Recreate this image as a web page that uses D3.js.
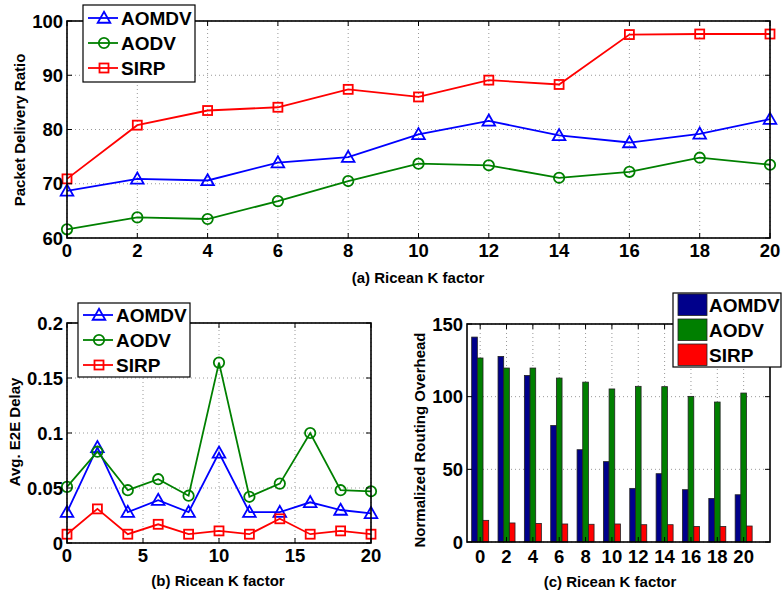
<!DOCTYPE html>
<html><head><meta charset="utf-8">
<script src="https://cdn.jsdelivr.net/npm/d3@7/dist/d3.min.js"></script>
<style>
html,body{margin:0;padding:0;background:#fff;}
svg text{font-family:"Liberation Sans",Arial,Helvetica,sans-serif;font-weight:bold;fill:#000;}
</style></head>
<body>
<svg id="c" width="782" height="596"></svg>
<script>
// ---- Data ----
const kFactors = [0, 2, 4, 6, 8, 10, 12, 14, 16, 18, 20];
const seriesNames = ["AOMDV", "AODV", "SIRP"];
// (a) Packet Delivery Ratio
const pdrAOMDV = [68.7, 70.9, 70.6, 73.9, 74.9, 79.1, 81.6, 78.9, 77.6, 79.2, 81.9];
const pdrAODV  = [61.6, 63.8, 63.5, 66.8, 70.5, 73.7, 73.4, 71.1, 72.2, 74.8, 73.5];
const pdrSIRP  = [70.9, 80.8, 83.5, 84.1, 87.4, 86.0, 89.1, 88.3, 97.5, 97.6, 97.6];
// (b) Avg. E2E Delay
const delayAOMDV = [0.028, 0.087, 0.028, 0.039, 0.028, 0.082, 0.028, 0.028, 0.037, 0.030, 0.027];
const delayAODV  = [0.051, 0.083, 0.048, 0.058, 0.043, 0.164, 0.042, 0.054, 0.100, 0.048, 0.047];
const delaySIRP  = [0.008, 0.031, 0.008, 0.017, 0.008, 0.011, 0.008, 0.022, 0.008, 0.011, 0.008];
// (c) Normalized Routing Overhead
const nroAOMDV = [141, 127.7, 114.6, 80.2, 63.5, 55.3, 36.9, 47, 36, 30, 32.5];
const nroAODV  = [126.6, 119.7, 119.7, 112.8, 110, 105.3, 107.1, 106.9, 100.2, 96.3, 102.5];
const nroSIRP  = [14.9, 13.1, 12.8, 12.4, 12.2, 12.4, 11.9, 11.9, 10.7, 10.7, 11];
// tick labels
const ticksA_x = [0, 2, 4, 6, 8, 10, 12, 14, 16, 18, 20];
const ticksA_y = [60, 70, 80, 90, 100];
const ticksB_x = [0, 5, 10, 15, 20];
const ticksB_y = [0, 0.05, 0.1, 0.15, 0.2];
const ticksB_ylab = ["0", "0.05", "0.1", "0.15", "0.2"];
const ticksC_y = [0, 50, 100, 150];

const lineColors = ["#0000ff", "#008000", "#ff0000"];
const barColors = ["#00008b", "#007f00", "#ff0000"];
const markers = ["tri", "circ", "sq"];

const svg = d3.select("#c");

function marker(g, type, x, y, color) {
  if (type === "tri") {
    const s = 6.3;
    g.append("path").attr("d", `M${x},${y - s}L${x + s},${y + s * 0.75}L${x - s},${y + s * 0.75}Z`)
      .attr("fill", "none").attr("stroke", color).attr("stroke-width", 1.8);
  } else if (type === "circ") {
    g.append("circle").attr("cx", x).attr("cy", y).attr("r", 5.2)
      .attr("fill", "none").attr("stroke", color).attr("stroke-width", 1.8);
  } else {
    const s = 4.5;
    g.append("rect").attr("x", x - s).attr("y", y - s).attr("width", 2 * s).attr("height", 2 * s)
      .attr("fill", "none").attr("stroke", color).attr("stroke-width", 1.8);
  }
}

function frame(x, y, xTicks, yTicks) {
  const g = svg.append("g");
  const [x0, x1] = x.range();
  const [y0, y1] = y.range();
  xTicks.forEach(t => {
    g.append("line").attr("x1", x(t)).attr("x2", x(t)).attr("y1", y0).attr("y2", y1)
      .attr("stroke", "#999").attr("stroke-width", 1).attr("stroke-dasharray", "1,3");
  });
  yTicks.forEach(t => {
    g.append("line").attr("x1", x0).attr("x2", x1).attr("y1", y(t)).attr("y2", y(t))
      .attr("stroke", "#999").attr("stroke-width", 1).attr("stroke-dasharray", "1,3");
  });
  return g;
}

function axesOver(x, y, xTicks, xLabels, yTicks, yLabels, xLabDy) {
  const g = svg.append("g");
  const [x0, x1] = x.range();
  const [y0, y1] = y.range();
  const tl = 5;
  xTicks.forEach((t, i) => {
    g.append("line").attr("x1", x(t)).attr("x2", x(t)).attr("y1", y0).attr("y2", y0 - tl).attr("stroke", "#000").attr("stroke-width", 1);
    g.append("line").attr("x1", x(t)).attr("x2", x(t)).attr("y1", y1).attr("y2", y1 + tl).attr("stroke", "#000").attr("stroke-width", 1);
    g.append("text").attr("x", x(t)).attr("y", y0 + xLabDy).attr("text-anchor", "middle")
      .attr("font-size", 18.5).text(xLabels[i]);
  });
  yTicks.forEach((t, i) => {
    g.append("line").attr("x1", x0).attr("x2", x0 + tl).attr("y1", y(t)).attr("y2", y(t)).attr("stroke", "#000").attr("stroke-width", 1);
    g.append("line").attr("x1", x1).attr("x2", x1 - tl).attr("y1", y(t)).attr("y2", y(t)).attr("stroke", "#000").attr("stroke-width", 1);
    g.append("text").attr("x", x0 - 4).attr("y", y(t) + 6.5).attr("text-anchor", "end")
      .attr("font-size", 18.5).text(yLabels[i]);
  });
  g.append("rect").attr("x", x0).attr("y", y1).attr("width", x1 - x0).attr("height", y0 - y1)
    .attr("fill", "none").attr("stroke", "#000").attr("stroke-width", 1.6);
  return g;
}

function lineChart(x, y, data) {
  const g = svg.append("g");
  data.forEach((vals, si) => {
    const line = d3.line().x((d, i) => x(kFactors[i])).y(d => y(d));
    g.append("path").attr("d", line(vals)).attr("fill", "none").attr("stroke", lineColors[si]).attr("stroke-width", 1.8);
    vals.forEach((v, i) => marker(g, markers[si], x(kFactors[i]), y(v), lineColors[si]));
  });
}

function lineLegend(bx, by, bw, bh, rows) {
  const g = svg.append("g");
  g.append("rect").attr("x", bx).attr("y", by).attr("width", bw).attr("height", bh)
    .attr("fill", "#fff").attr("stroke", "#000").attr("stroke-width", 1.2);
  seriesNames.forEach((n, i) => {
    const yy = rows[i];
    g.append("line").attr("x1", bx + 5).attr("x2", bx + 35).attr("y1", yy).attr("y2", yy)
      .attr("stroke", lineColors[i]).attr("stroke-width", 1.8);
    marker(g, markers[i], bx + 21, yy, lineColors[i]);
    g.append("text").attr("x", bx + 38).attr("y", yy + 7).attr("font-size", 19).text(n);
  });
}

// ---------- Chart (a) ----------
{
  const x = d3.scaleLinear().domain([0, 20]).range([67, 770]);
  const y = d3.scaleLinear().domain([60, 100]).range([238, 21]);
  frame(x, y, ticksA_x, ticksA_y);
  lineChart(x, y, [pdrAOMDV, pdrAODV, pdrSIRP]);
  axesOver(x, y, ticksA_x, ticksA_x.map(String), ticksA_y, ticksA_y.map(String), 19);
  lineLegend(83, 5, 112, 77, [18, 43, 68]);
  svg.append("text").attr("x", 418).attr("y", 283).attr("text-anchor", "middle").attr("font-size", 15).text("(a) Ricean K factor");
  svg.append("text").attr("transform", "translate(25,130) rotate(-90)").attr("text-anchor", "middle").attr("font-size", 15).text("Packet Delivery Ratio");
}

// ---------- Chart (b) ----------
{
  const x = d3.scaleLinear().domain([0, 20]).range([67, 371]);
  const y = d3.scaleLinear().domain([0, 0.2]).range([543, 323]);
  frame(x, y, ticksB_x, ticksB_y);
  lineChart(x, y, [delayAOMDV, delayAODV, delaySIRP]);
  axesOver(x, y, ticksB_x, ticksB_x.map(String), ticksB_y, ticksB_ylab, 19);
  lineLegend(78, 303, 112, 74, [315, 340, 365]);
  svg.append("text").attr("x", 218).attr("y", 586).attr("text-anchor", "middle").attr("font-size", 15).text("(b) Ricean K factor");
  svg.append("text").attr("transform", "translate(20,432) rotate(-90)").attr("text-anchor", "middle").attr("font-size", 15).text("Avg. E2E Delay");
}

// ---------- Chart (c) ----------
{
  const x = d3.scaleLinear().domain([-0.5, 11]).range([467, 770]);
  const y = d3.scaleLinear().domain([0, 150]).range([542, 324]);
  const idx = kFactors.map((d, i) => i);
  frame(x, y, idx, ticksC_y);
  const step = x(1) - x(0);
  const bw = step * 0.215;
  const g = svg.append("g");
  [nroAOMDV, nroAODV, nroSIRP].forEach((vals, si) => {
    g.selectAll(null).data(vals).enter().append("rect")
      .attr("x", (d, i) => x(i) + (si - 1) * bw - bw / 2)
      .attr("y", d => y(d))
      .attr("width", bw)
      .attr("height", d => y(0) - y(d))
      .attr("fill", barColors[si]).attr("stroke", "#222").attr("stroke-width", 0.8);
  });
  axesOver(x, y, idx, kFactors.map(String), ticksC_y, ticksC_y.map(String), 21);
  const lg = svg.append("g");
  lg.append("rect").attr("x", 673).attr("y", 293).attr("width", 108).attr("height", 74)
    .attr("fill", "#fff").attr("stroke", "#000").attr("stroke-width", 1.2);
  const rowsTop = [294, 319, 344];
  seriesNames.forEach((n, i) => {
    lg.append("rect").attr("x", 678).attr("y", rowsTop[i]).attr("width", 29).attr("height", 21.5)
      .attr("fill", barColors[i]).attr("stroke", "#222").attr("stroke-width", 0.8);
    lg.append("text").attr("x", 709).attr("y", rowsTop[i] + 18).attr("font-size", 19).text(n);
  });
  svg.append("text").attr("x", 610).attr("y", 587).attr("text-anchor", "middle").attr("font-size", 15).text("(c) Ricean K factor");
  svg.append("text").attr("transform", "translate(425,440) rotate(-90)").attr("text-anchor", "middle").attr("font-size", 15).text("Normalized Routing Overhead");
}
</script>
</body></html>
